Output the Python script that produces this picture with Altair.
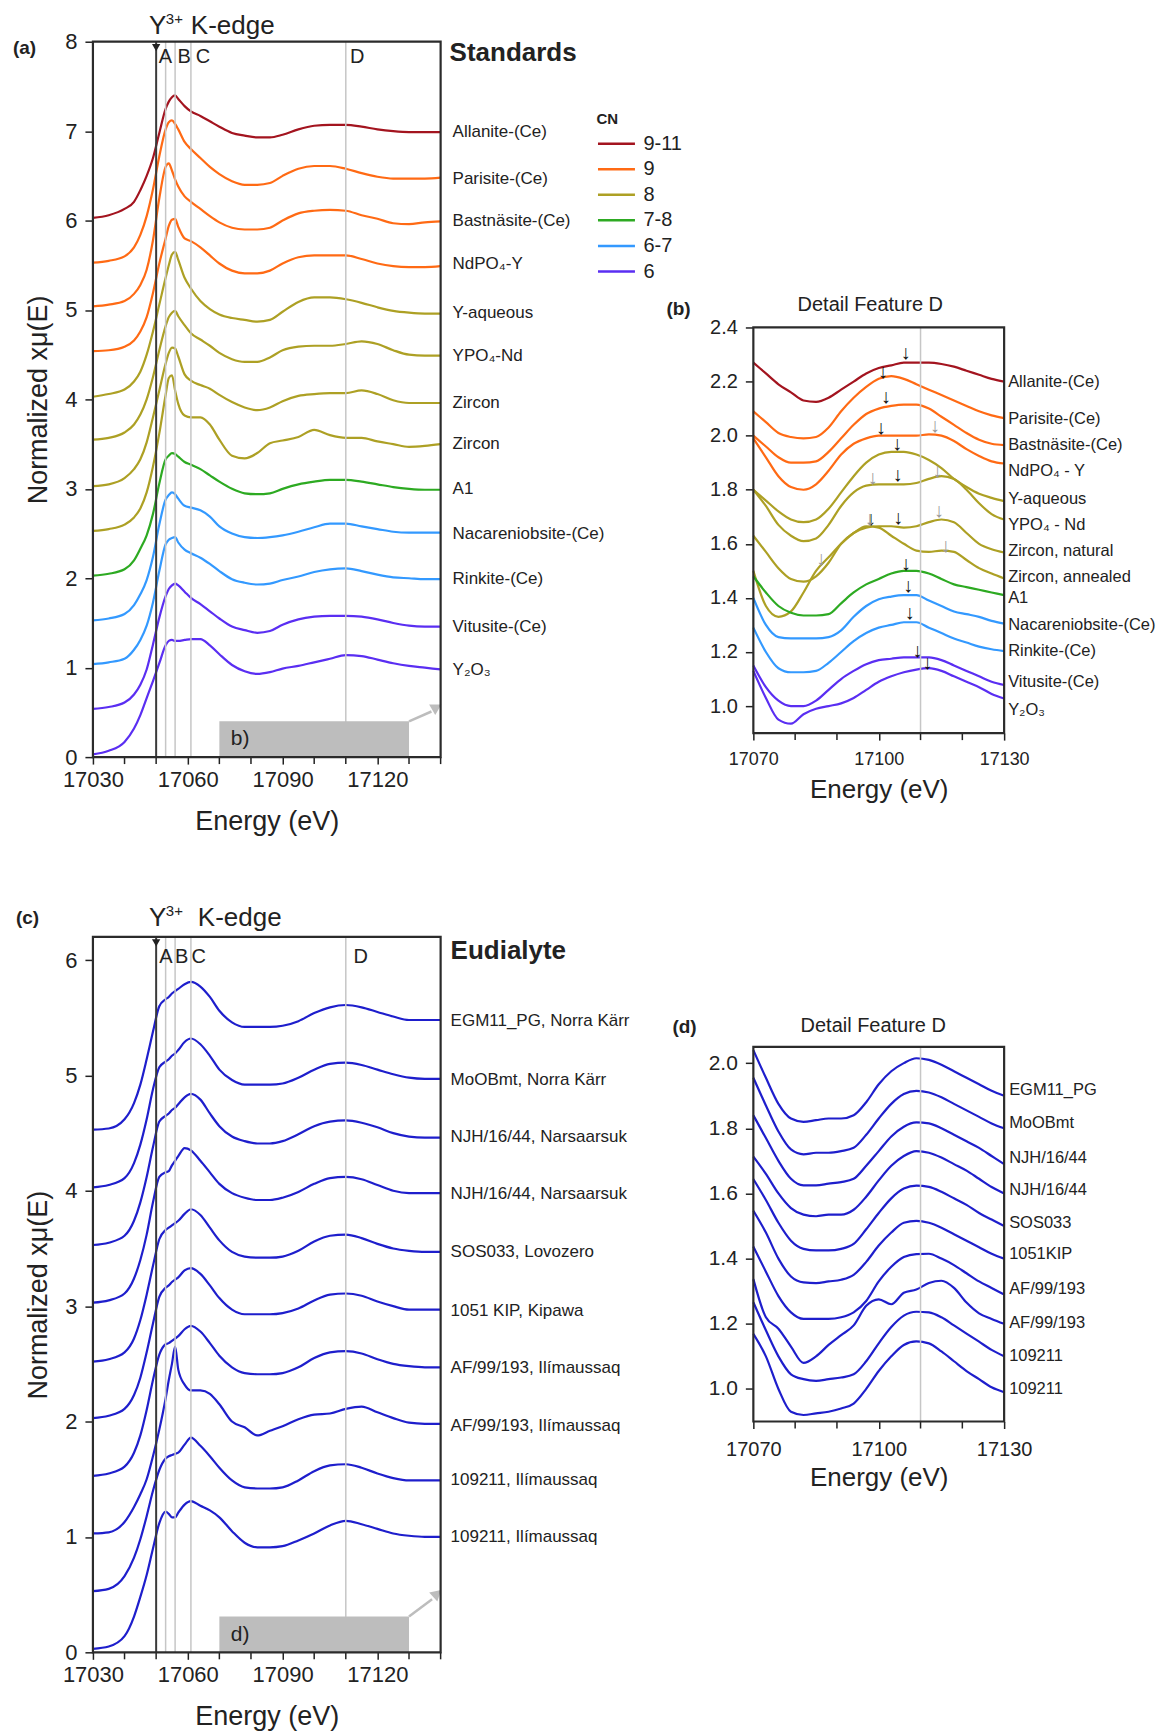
import altair as alt
import pandas as pd

FONT = "Liberation Sans"
INK = "#222222"
GUIDE = "#C6C6C6"
BOX = "#BDBDBD"

# ---------------- energies ----------------
E_EDGE = [17030, 17035, 17040, 17043, 17045, 17047, 17049, 17051, 17053, 17054,
          17055, 17056, 17057, 17059, 17061, 17064, 17067, 17070, 17074, 17078,
          17082, 17086, 17090, 17095, 17100, 17105, 17110, 17115, 17120, 17125,
          17130, 17135, 17140]
E_DETAIL = [17070, 17073, 17076, 17079, 17082, 17085, 17088, 17091, 17094, 17097,
            17100, 17103, 17106, 17109, 17112, 17115, 17118, 17121, 17124, 17127, 17130]

MAJOR_EDGE = [17030, 17060, 17090, 17120]
MINOR_EDGE = [17040, 17050, 17070, 17080, 17100, 17110, 17130, 17140]
MAJOR_DETAIL = [17070, 17100, 17130]
MINOR_DETAIL = [17080, 17090, 17110, 17120]

EDGE_E = 17050
FEATURE_E = [17053, 17056, 17061, 17110]
FEATURE_LABELS = ["A", "B", "C", "D"]
FEATURE_LABEL_E_A = [17052.9, 17058.9, 17064.8, 17113.6]
FEATURE_LABEL_E_C = [17053.1, 17058.1, 17063.5, 17114.7]

CN_LEVELS = ["9-11", "9", "8", "7-8", "6-7", "6"]
CN_COLORS = ["#A3141F", "#FF6A14", "#ADA024", "#2DAA22", "#3399FF", "#5A2EF2"]
EUD_COLOR = "#1E1ECC"

# ---------------- (a) standards, full edge ----------------
STD_LABELS = ["Allanite-(Ce)", "Parisite-(Ce)", "Bastnäsite-(Ce)", "NdPO₄-Y", "Y-aqueous",
              "YPO₄-Nd", "Zircon", "Zircon", "A1", "Nacareniobsite-(Ce)", "Rinkite-(Ce)",
              "Vitusite-(Ce)", "Y₂O₃"]
STD_CN = ["9-11", "9", "9", "9", "8", "8", "8", "8", "7-8", "6-7", "6-7", "6", "6"]
STD_LABEL_Y = [6.99, 6.47, 5.99, 5.51, 4.97, 4.49, 3.96, 3.50, 3.00, 2.49, 1.99, 1.46, 0.97]

ALLANITE = [6.03, 6.06, 6.13, 6.21, 6.34, 6.50, 6.70, 6.98, 7.25, 7.33, 7.38, 7.40, 7.36, 7.28, 7.22, 7.17, 7.11,
            7.05, 6.98, 6.95, 6.93, 6.93, 6.96, 7.02, 7.06, 7.07, 7.07, 7.05, 7.02, 7.00, 6.99, 6.99, 6.99]
PARISITE = [5.53, 5.55, 5.60, 5.70, 5.84, 6.05, 6.35, 6.72, 7.02, 7.10, 7.12, 7.08, 7.02, 6.88, 6.80, 6.70, 6.60,
            6.52, 6.44, 6.40, 6.40, 6.42, 6.50, 6.58, 6.61, 6.61, 6.58, 6.53, 6.49, 6.47, 6.47, 6.47, 6.48]
BASTNASITE = [5.04, 5.06, 5.10, 5.18, 5.28, 5.45, 5.78, 6.25, 6.60, 6.64, 6.56, 6.46, 6.38, 6.27, 6.21, 6.13, 6.05,
              5.98, 5.92, 5.90, 5.90, 5.92, 6.00, 6.08, 6.11, 6.12, 6.11, 6.06, 6.02, 5.97, 5.96, 5.98, 5.99]
NDPO4 = [4.54, 4.55, 4.59, 4.66, 4.76, 4.92, 5.19, 5.52, 5.80, 5.94, 6.01, 6.02, 5.93, 5.80, 5.77, 5.70, 5.61,
         5.52, 5.44, 5.41, 5.41, 5.44, 5.52, 5.59, 5.61, 5.61, 5.61, 5.57, 5.52, 5.49, 5.48, 5.48, 5.49]
Y_AQ = [4.03, 4.06, 4.11, 4.20, 4.31, 4.50, 4.76, 5.06, 5.36, 5.50, 5.62, 5.65, 5.56, 5.36, 5.24, 5.10, 5.01,
        4.95, 4.91, 4.89, 4.87, 4.89, 4.98, 5.09, 5.14, 5.14, 5.12, 5.08, 5.03, 4.99, 4.97, 4.96, 4.96]
YPO4 = [3.55, 3.57, 3.63, 3.72, 3.83, 4.00, 4.25, 4.55, 4.82, 4.92, 4.97, 4.99, 4.93, 4.83, 4.74, 4.67, 4.60,
        4.52, 4.45, 4.42, 4.42, 4.47, 4.55, 4.59, 4.60, 4.60, 4.62, 4.65, 4.62, 4.55, 4.50, 4.49, 4.49]
ZIRCON_NAT = [3.03, 3.05, 3.12, 3.22, 3.33, 3.52, 3.80, 4.10, 4.40, 4.52, 4.58, 4.57, 4.48, 4.28, 4.21, 4.16, 4.12,
              4.05, 3.97, 3.91, 3.88, 3.91, 3.98, 4.04, 4.06, 4.07, 4.07, 4.10, 4.06, 3.99, 3.96, 3.96, 3.96]
ZIRCON_ANN = [2.53, 2.55, 2.60, 2.68, 2.78, 2.96, 3.25, 3.62, 4.05, 4.24, 4.27, 4.10, 3.95, 3.82, 3.80, 3.80, 3.72,
              3.55, 3.37, 3.34, 3.40, 3.51, 3.54, 3.58, 3.66, 3.60, 3.57, 3.57, 3.53, 3.50, 3.47, 3.48, 3.50]
A1 = [2.03, 2.05, 2.10, 2.20, 2.33, 2.48, 2.72, 3.06, 3.33, 3.37, 3.40, 3.39, 3.36, 3.30, 3.27, 3.22, 3.15,
      3.08, 3.00, 2.95, 2.94, 2.95, 3.00, 3.05, 3.08, 3.10, 3.10, 3.08, 3.05, 3.02, 3.00, 2.99, 2.99]
NACARENIOBSITE = [1.53, 1.55, 1.60, 1.70, 1.82, 1.98, 2.24, 2.60, 2.88, 2.93, 2.96, 2.94, 2.89, 2.81, 2.79, 2.76, 2.69,
                  2.58, 2.50, 2.46, 2.45, 2.46, 2.48, 2.52, 2.57, 2.61, 2.61, 2.58, 2.55, 2.52, 2.51, 2.51, 2.51]
RINKITE = [1.04, 1.06, 1.10, 1.20, 1.31, 1.47, 1.73, 2.08, 2.38, 2.43, 2.45, 2.46, 2.40, 2.32, 2.28, 2.23, 2.16,
           2.08, 1.99, 1.95, 1.93, 1.94, 1.98, 2.02, 2.07, 2.10, 2.11, 2.08, 2.04, 2.01, 2.00, 1.99, 1.99]
VITUSITE = [0.54, 0.56, 0.61, 0.70, 0.81, 0.98, 1.26, 1.56, 1.80, 1.88, 1.92, 1.94, 1.92, 1.85, 1.78, 1.71, 1.63,
            1.55, 1.46, 1.42, 1.39, 1.41, 1.48, 1.54, 1.57, 1.58, 1.58, 1.57, 1.54, 1.50, 1.47, 1.46, 1.46]
Y2O3 = [0.03, 0.07, 0.17, 0.32, 0.47, 0.66, 0.85, 1.05, 1.25, 1.30, 1.31, 1.30, 1.30, 1.31, 1.32, 1.32, 1.25,
        1.15, 1.03, 0.96, 0.93, 0.95, 0.99, 1.02, 1.06, 1.10, 1.14, 1.13, 1.09, 1.05, 1.02, 1.00, 0.98]
STD_CURVES = [ALLANITE, PARISITE, BASTNASITE, NDPO4, Y_AQ, YPO4, ZIRCON_NAT, ZIRCON_ANN, A1,
              NACARENIOBSITE, RINKITE, VITUSITE, Y2O3]

# ---------------- (b) standards, feature D ----------------
B_LABELS = ["Allanite-(Ce)", "Parisite-(Ce)", "Bastnäsite-(Ce)", "NdPO₄ - Y", "Y-aqueous", "YPO₄ - Nd",
            "Zircon, natural", "Zircon, annealed", "A1", "Nacareniobsite-(Ce)", "Rinkite-(Ce)",
            "Vitusite-(Ce)", "Y₂O₃"]
B_LABEL_Y = [2.20, 2.063, 1.967, 1.87, 1.767, 1.67, 1.574, 1.478, 1.40, 1.30, 1.204, 1.089, 0.985]

B_ALLANITE = [2.27, 2.23, 2.19, 2.16, 2.13, 2.125, 2.14, 2.17, 2.20, 2.23, 2.25, 2.26, 2.27, 2.27, 2.27, 2.265, 2.255, 2.24, 2.225, 2.21, 2.20]
B_PARISITE = [2.09, 2.05, 2.01, 1.995, 1.99, 1.995, 2.03, 2.09, 2.14, 2.18, 2.21, 2.22, 2.21, 2.19, 2.17, 2.15, 2.13, 2.11, 2.09, 2.075, 2.065]
B_BASTNASITE = [2.00, 1.96, 1.92, 1.90, 1.90, 1.905, 1.94, 1.99, 2.04, 2.08, 2.10, 2.11, 2.115, 2.115, 2.10, 2.07, 2.04, 2.01, 1.985, 1.97, 1.965]
B_NDPO4 = [1.99, 1.92, 1.85, 1.81, 1.80, 1.82, 1.87, 1.93, 1.97, 1.99, 2.00, 2.00, 2.00, 2.00, 2.005, 2.00, 1.98, 1.95, 1.925, 1.905, 1.897]
B_Y_AQ = [1.80, 1.76, 1.72, 1.69, 1.68, 1.69, 1.73, 1.79, 1.85, 1.90, 1.93, 1.94, 1.94, 1.93, 1.91, 1.88, 1.84, 1.81, 1.785, 1.77, 1.758]
B_YPO4 = [1.80, 1.74, 1.67, 1.63, 1.61, 1.62, 1.67, 1.74, 1.79, 1.815, 1.82, 1.82, 1.82, 1.825, 1.84, 1.85, 1.84, 1.80, 1.75, 1.71, 1.69]
B_ZIRCON_NAT = [1.63, 1.57, 1.51, 1.47, 1.46, 1.48, 1.53, 1.60, 1.64, 1.66, 1.665, 1.665, 1.66, 1.665, 1.68, 1.69, 1.68, 1.64, 1.60, 1.58, 1.568]
B_ZIRCON_ANN = [1.50, 1.37, 1.33, 1.35, 1.42, 1.50, 1.55, 1.60, 1.64, 1.665, 1.66, 1.63, 1.60, 1.575, 1.57, 1.575, 1.57, 1.54, 1.51, 1.49, 1.472]
B_A1 = [1.48, 1.42, 1.37, 1.345, 1.335, 1.335, 1.34, 1.38, 1.42, 1.45, 1.47, 1.49, 1.50, 1.50, 1.49, 1.47, 1.45, 1.44, 1.43, 1.42, 1.41]
B_NACARENIOBSITE = [1.40, 1.30, 1.255, 1.25, 1.25, 1.25, 1.255, 1.28, 1.33, 1.37, 1.395, 1.405, 1.41, 1.41, 1.39, 1.37, 1.35, 1.34, 1.33, 1.315, 1.305]
B_RINKITE = [1.29, 1.20, 1.14, 1.125, 1.125, 1.13, 1.16, 1.20, 1.24, 1.27, 1.29, 1.30, 1.31, 1.31, 1.29, 1.27, 1.25, 1.235, 1.22, 1.21, 1.203]
B_VITUSITE = [1.15, 1.07, 1.02, 1.00, 1.00, 1.02, 1.06, 1.10, 1.13, 1.155, 1.17, 1.175, 1.18, 1.18, 1.18, 1.17, 1.15, 1.13, 1.11, 1.09, 1.078]
B_Y2O3 = [1.13, 1.03, 0.95, 0.935, 0.97, 0.99, 1.00, 1.01, 1.03, 1.06, 1.09, 1.11, 1.125, 1.135, 1.14, 1.13, 1.11, 1.09, 1.07, 1.045, 1.028]
B_CURVES = [B_ALLANITE, B_PARISITE, B_BASTNASITE, B_NDPO4, B_Y_AQ, B_YPO4, B_ZIRCON_NAT, B_ZIRCON_ANN,
            B_A1, B_NACARENIOBSITE, B_RINKITE, B_VITUSITE, B_Y2O3]

ARROW_E = [17106.5, 17101.1, 17101.8, 17113.5, 17100.6, 17104.5, 17098.6, 17104.6, 17114.1, 17114.5,
           17097.9, 17098.2, 17104.7, 17116.1, 17086.3, 17106.6, 17107.1, 17107.5, 17109.3, 17111.7]
ARROW_V = [2.304, 2.236, 2.144, 2.036, 2.027, 1.969, 1.844, 1.854, 1.869, 1.721,
           1.691, 1.691, 1.694, 1.592, 1.543, 1.527, 1.444, 1.346, 1.203, 1.158]
ARROW_GREY = [False, False, False, True, False, False, True, False, True, True,
              True, False, False, True, True, False, False, False, False, False]

# ---------------- (c) eudialyte, full edge ----------------
EUD_LABELS = ["EGM11_PG, Norra Kärr", "MoOBmt, Norra Kärr", "NJH/16/44, Narsaarsuk", "NJH/16/44, Narsaarsuk",
              "SOS033, Lovozero", "1051 KIP, Kipawa", "AF/99/193, Ilímaussaq", "AF/99/193, Ilímaussaq",
              "109211, Ilímaussaq", "109211, Ilímaussaq"]
EUD_LABEL_Y = [5.47, 4.96, 4.47, 3.97, 3.47, 2.96, 2.46, 1.96, 1.49, 1.00]

EGM11 = [4.53, 4.54, 4.62, 4.76, 4.92, 5.14, 5.38, 5.60, 5.66, 5.68, 5.71, 5.73, 5.75, 5.79, 5.81, 5.77, 5.68,
         5.56, 5.46, 5.42, 5.42, 5.42, 5.43, 5.47, 5.54, 5.59, 5.61, 5.59, 5.55, 5.51, 5.48, 5.48, 5.48]
MOOBMT = [4.03, 4.05, 4.11, 4.24, 4.40, 4.62, 4.88, 5.07, 5.12, 5.14, 5.17, 5.19, 5.22, 5.29, 5.32, 5.27, 5.17,
          5.05, 4.96, 4.92, 4.92, 4.92, 4.93, 4.98, 5.05, 5.10, 5.11, 5.09, 5.05, 5.01, 4.98, 4.97, 4.97]
NJH_1 = [3.53, 3.55, 3.61, 3.74, 3.90, 4.12, 4.38, 4.60, 4.65, 4.67, 4.70, 4.72, 4.75, 4.81, 4.84, 4.79, 4.67,
         4.56, 4.47, 4.43, 4.41, 4.41, 4.43, 4.49, 4.56, 4.60, 4.61, 4.59, 4.55, 4.50, 4.47, 4.46, 4.46]
NJH_2 = [3.03, 3.05, 3.11, 3.24, 3.40, 3.62, 3.90, 4.12, 4.16, 4.17, 4.22, 4.26, 4.30, 4.37, 4.35, 4.26, 4.16,
         4.06, 3.98, 3.94, 3.92, 3.92, 3.94, 3.99, 4.06, 4.11, 4.12, 4.10, 4.05, 4.00, 3.98, 3.98, 3.98]
SOS033 = [2.52, 2.54, 2.60, 2.72, 2.88, 3.10, 3.35, 3.58, 3.66, 3.68, 3.70, 3.72, 3.74, 3.80, 3.84, 3.79, 3.68,
          3.57, 3.47, 3.43, 3.42, 3.42, 3.43, 3.48, 3.56, 3.61, 3.62, 3.59, 3.54, 3.50, 3.48, 3.47, 3.47]
KIP1051 = [2.03, 2.05, 2.11, 2.23, 2.38, 2.60, 2.85, 3.08, 3.16, 3.18, 3.21, 3.23, 3.25, 3.31, 3.33, 3.28, 3.18,
           3.07, 2.97, 2.93, 2.93, 2.93, 2.94, 2.98, 3.05, 3.10, 3.11, 3.09, 3.04, 3.00, 2.97, 2.97, 2.97]
AF_1 = [1.53, 1.55, 1.61, 1.73, 1.88, 2.10, 2.36, 2.58, 2.67, 2.68, 2.70, 2.72, 2.74, 2.80, 2.83, 2.78, 2.68,
        2.57, 2.47, 2.42, 2.41, 2.41, 2.42, 2.47, 2.55, 2.60, 2.61, 2.59, 2.54, 2.50, 2.48, 2.47, 2.47]
AF_2 = [1.03, 1.04, 1.13, 1.26, 1.37, 1.50, 1.70, 1.93, 2.20, 2.36, 2.50, 2.65, 2.45, 2.32, 2.27, 2.27, 2.24,
        2.15, 2.00, 1.95, 1.88, 1.92, 1.96, 2.02, 2.06, 2.07, 2.11, 2.13, 2.08, 2.03, 1.99, 1.98, 1.98]
S109211_1 = [0.53, 0.55, 0.66, 0.82, 0.98, 1.18, 1.40, 1.58, 1.68, 1.70, 1.71, 1.72, 1.73, 1.80, 1.86, 1.79, 1.70,
             1.60, 1.49, 1.43, 1.42, 1.42, 1.43, 1.49, 1.57, 1.62, 1.63, 1.60, 1.55, 1.51, 1.49, 1.49, 1.49]
S109211_2 = [0.03, 0.05, 0.14, 0.31, 0.48, 0.67, 0.90, 1.12, 1.22, 1.20, 1.17, 1.17, 1.21, 1.28, 1.31, 1.27, 1.23,
             1.17, 1.05, 0.95, 0.91, 0.91, 0.92, 0.97, 1.03, 1.10, 1.14, 1.11, 1.07, 1.03, 1.01, 1.00, 1.00]
EUD_CURVES = [EGM11, MOOBMT, NJH_1, NJH_2, SOS033, KIP1051, AF_1, AF_2, S109211_1, S109211_2]

# ---------------- (d) eudialyte, feature D ----------------
D_LABELS = ["EGM11_PG", "MoOBmt", "NJH/16/44", "NJH/16/44", "SOS033", "1051KIP", "AF/99/193", "AF/99/193",
            "109211", "109211"]
D_LABEL_Y = [1.917, 1.816, 1.709, 1.61, 1.509, 1.414, 1.307, 1.202, 1.101, 1.0]

D_EGM11 = [2.04, 1.955, 1.875, 1.83, 1.82, 1.825, 1.83, 1.83, 1.84, 1.88, 1.935, 1.975, 2.00, 2.015, 2.01, 1.995, 1.975, 1.955, 1.935, 1.915, 1.90]
D_MOOBMT = [1.955, 1.87, 1.79, 1.735, 1.72, 1.725, 1.725, 1.73, 1.74, 1.78, 1.83, 1.875, 1.905, 1.915, 1.91, 1.895, 1.875, 1.855, 1.835, 1.815, 1.80]
D_NJH_1 = [1.84, 1.77, 1.70, 1.645, 1.625, 1.625, 1.63, 1.635, 1.645, 1.685, 1.73, 1.775, 1.805, 1.818, 1.815, 1.80, 1.78, 1.76, 1.74, 1.715, 1.69]
D_NJH_2 = [1.713, 1.66, 1.60, 1.555, 1.535, 1.53, 1.535, 1.535, 1.55, 1.59, 1.64, 1.685, 1.715, 1.73, 1.725, 1.71, 1.69, 1.67, 1.645, 1.62, 1.60]
D_SOS033 = [1.644, 1.58, 1.51, 1.455, 1.43, 1.425, 1.425, 1.43, 1.445, 1.49, 1.54, 1.585, 1.615, 1.624, 1.62, 1.605, 1.585, 1.565, 1.54, 1.52, 1.50]
D_KIP1051 = [1.547, 1.48, 1.40, 1.345, 1.327, 1.325, 1.33, 1.335, 1.35, 1.39, 1.44, 1.48, 1.51, 1.516, 1.51, 1.495, 1.475, 1.455, 1.435, 1.415, 1.40]
D_AF_1 = [1.437, 1.36, 1.285, 1.235, 1.215, 1.215, 1.215, 1.22, 1.235, 1.27, 1.33, 1.375, 1.405, 1.414, 1.415, 1.40, 1.38, 1.355, 1.33, 1.31, 1.29]
D_AF_2 = [1.337, 1.22, 1.185, 1.13, 1.08, 1.10, 1.135, 1.165, 1.195, 1.255, 1.275, 1.26, 1.295, 1.305, 1.325, 1.332, 1.31, 1.265, 1.232, 1.215, 1.20]
D_109211_1 = [1.266, 1.18, 1.10, 1.045, 1.03, 1.025, 1.03, 1.035, 1.045, 1.085, 1.14, 1.19, 1.225, 1.237, 1.235, 1.22, 1.195, 1.17, 1.145, 1.12, 1.10]
D_109211_2 = [1.169, 1.10, 1.00, 0.93, 0.92, 0.925, 0.93, 0.94, 0.955, 1.00, 1.055, 1.10, 1.135, 1.146, 1.14, 1.115, 1.085, 1.055, 1.03, 1.005, 0.99]
D_CURVES = [D_EGM11, D_MOOBMT, D_NJH_1, D_NJH_2, D_SOS033, D_KIP1051, D_AF_1, D_AF_2, D_109211_1, D_109211_2]


# ---------------- helpers ----------------
def series_frame(energies, curves, groups):
    rows = []
    for sid, (vals, grp) in enumerate(zip(curves, groups)):
        for e, v in zip(energies, vals):
            rows.append({"sid": sid, "cn": grp, "E": e, "v": v})
    return pd.DataFrame(rows)


def note(text, x, y, size, weight="normal", align="left", baseline="middle", color=INK):
    return alt.Chart(pd.DataFrame({"t": [text]})).mark_text(
        font=FONT, fontSize=size, fontWeight=weight, align=align, baseline=baseline, color=color
    ).encode(text="t:N", x=alt.value(x), y=alt.value(y))


def energy_axis(values, label_size, title_size, offset=0, label_pad=5, title_pad=8):
    return alt.Axis(
        values=values, format="d",
        title="Energy (eV)", labelFontSize=label_size, titleFontSize=title_size,
        labelFont=FONT, titleFont=FONT, labelColor=INK, titleColor=INK,
        titleFontWeight="normal", tickSize=7, tickWidth=1.5, tickColor=INK,
        domain=False, grid=False, labelFlush=False, labelOverlap=False,
        labelPadding=label_pad, titlePadding=title_pad, offset=offset)


def value_axis(values, label_size, title="", fmt="d"):
    return alt.Axis(values=values, format=fmt, labelFontSize=label_size, labelFont=FONT, labelColor=INK,
                    tickSize=8, tickWidth=1.5, tickColor=INK, domain=False, grid=False,
                    labelPadding=8, labelFlush=False, labelOverlap=False, title=title,
                    titleFontSize=27, titleFont=FONT, titleColor=INK, titleFontWeight="normal",
                    titlePadding=12)


def minor_ticks(values, xscale, ytop):
    return alt.Chart(pd.DataFrame({"E": values})).mark_rule(color=INK, strokeWidth=1.5).encode(
        x=alt.X("E:Q", scale=xscale), y=alt.value(ytop), y2=alt.value(ytop + 7))


def frame(xs, ys, xscale, yscale):
    df = pd.DataFrame({"x0": [xs[0]], "x1": [xs[1]], "y0": [ys[0]], "y1": [ys[1]]})
    return alt.Chart(df).mark_rect(fillOpacity=0, stroke="#2b2b2b", strokeWidth=2.2).encode(
        x=alt.X("x0:Q", scale=xscale), x2="x1:Q",
        y=alt.Y("y0:Q", scale=yscale), y2="y1:Q")


def guides(values, xscale, color, width, yscale=None, span=None):
    df = pd.DataFrame({"E": values})
    enc = dict(x=alt.X("E:Q", scale=xscale))
    if span is not None:
        df["y0"] = span[0]
        df["y1"] = span[1]
        enc["y"] = alt.Y("y0:Q", scale=yscale)
        enc["y2"] = "y1:Q"
    return alt.Chart(df).mark_rule(color=color, strokeWidth=width).encode(**enc)


def curve_labels(labels, ys, xpix, yscale, size):
    return alt.Chart(pd.DataFrame({"t": labels, "v": ys})).mark_text(
        font=FONT, fontSize=size, align="left", baseline="middle", color=INK
    ).encode(text="t:N", x=alt.value(xpix), y=alt.Y("v:Q", scale=yscale))


def zoom_box(xs, ys, head, angle, text, text_xy, xscale, yscale):
    box = alt.Chart(pd.DataFrame({"x0": [xs[0]], "x1": [xs[1]], "y0": [ys[0]], "y1": [ys[1]]})).mark_rect(
        color=BOX).encode(x=alt.X("x0:Q", scale=xscale), x2="x1:Q",
                          y=alt.Y("y0:Q", scale=yscale), y2="y1:Q")
    stem = alt.Chart(pd.DataFrame({"x0": [xs[1]], "x1": [head[0] - 1.2], "y0": [ys[1]], "y1": [head[1] - 0.04]})).mark_rule(
        color=BOX, strokeWidth=2.5).encode(x=alt.X("x0:Q", scale=xscale), x2="x1:Q",
                                            y=alt.Y("y0:Q", scale=yscale), y2="y1:Q")
    tip = alt.Chart(pd.DataFrame({"E": [head[0]], "v": [head[1]]})).mark_point(
        shape="triangle", filled=True, size=150, color=BOX, opacity=1, angle=angle).encode(
        x=alt.X("E:Q", scale=xscale), y=alt.Y("v:Q", scale=yscale))
    lab = alt.Chart(pd.DataFrame({"t": [text], "E": [text_xy[0]], "v": [text_xy[1]]})).mark_text(
        font=FONT, fontSize=21, align="left", baseline="middle", color=INK).encode(
        text="t:N", x=alt.X("E:Q", scale=xscale), y=alt.Y("v:Q", scale=yscale))
    return [box, stem, tip, lab]


def feature_letters(es, ypix, xscale):
    return alt.Chart(pd.DataFrame({"t": FEATURE_LABELS, "E": es})).mark_text(
        font=FONT, fontSize=20, align="center", baseline="alphabetic", color=INK).encode(
        text="t:N", x=alt.X("E:Q", scale=xscale), y=alt.value(ypix))


def edge_marker(top, xscale, yscale):
    return alt.Chart(pd.DataFrame({"E": [EDGE_E], "v": [top]})).mark_point(
        shape="triangle-down", filled=True, size=70, color=INK, opacity=1, yOffset=6).encode(
        x=alt.X("E:Q", scale=xscale), y=alt.Y("v:Q", scale=yscale))


cscale = alt.Scale(domain=CN_LEVELS, range=CN_COLORS)
cn_legend = alt.Legend(title="CN", orient="none", legendX=504, legendY=70,
                       symbolType="stroke", symbolSize=1369, symbolStrokeWidth=2.5,
                       clipHeight=24, rowPadding=1.6, labelFontSize=20, labelFont=FONT,
                       labelColor=INK, titleFontSize=15, titleFont=FONT, titleFontWeight="bold",
                       titleColor=INK, labelOffset=7, titlePadding=5)

# ---------------- panel (a) ----------------
xa = alt.Scale(domain=[17030, 17140], nice=False, zero=False)
ya = alt.Scale(domain=[0, 8], nice=False, zero=False)
lines_a = alt.Chart(series_frame(E_EDGE, STD_CURVES, STD_CN)).mark_line(
    strokeWidth=2.2, interpolate="monotone").encode(
    x=alt.X("E:Q", scale=xa, axis=energy_axis(MAJOR_EDGE, 22, 27, title_pad=18)),
    y=alt.Y("v:Q", scale=ya, axis=value_axis(list(range(0, 9)), 22, "Normalized xμ(E)")),
    color=alt.Color("cn:N", scale=cscale, legend=cn_legend),
    detail="sid:N")
panel_a = alt.layer(
    lines_a,
    guides(FEATURE_E, xa, GUIDE, 1.5),
    guides([EDGE_E], xa, "#3a3a3a", 2),
    *zoom_box([17070, 17130], [0, 0.4], (17138.3, 0.55), 60, "b)", (17073.6, 0.2), xa, ya),
    edge_marker(8, xa, ya),
    minor_ticks(MINOR_EDGE, xa, 716),
    frame([17030, 17140], [0, 8], xa, ya),
    feature_letters(FEATURE_LABEL_E_A, 21, xa),
    curve_labels(STD_LABELS, STD_LABEL_Y, 360, ya, 17),
    note("(a)", -80, 6, 19, weight="bold"),
    note("Y", 56, -8, 26, baseline="alphabetic"),
    note("3+", 73, -18, 15, baseline="alphabetic"),
    note("K-edge", 98, -8, 26, baseline="alphabetic"),
    note("Standards", 357, 11, 26, weight="bold"),
    note(".", -84, -32, 2, baseline="top", color="#ffffff"),
).properties(width=348, height=716)

# ---------------- panel (b) ----------------
xb = alt.Scale(domain=[17070, 17130], nice=False, zero=False)
yb = alt.Scale(domain=[0.9, 2.4], range=[692, 286], nice=False, zero=False)
lines_b = alt.Chart(series_frame(E_DETAIL, B_CURVES, STD_CN)).mark_line(
    strokeWidth=2.2, interpolate="monotone").encode(
    x=alt.X("E:Q", scale=xb, axis=energy_axis(MAJOR_DETAIL, 18, 26, offset=-24, label_pad=10, title_pad=8)),
    y=alt.Y("v:Q", scale=yb, axis=value_axis([1.0, 1.2, 1.4, 1.6, 1.8, 2.0, 2.2, 2.4], 20, "", ".1f")),
    color=alt.Color("cn:N", scale=cscale, legend=cn_legend),
    detail="sid:N")
arrows = pd.DataFrame({"E": ARROW_E, "v": ARROW_V, "grey": ARROW_GREY, "t": ["↓"] * len(ARROW_E)})


def arrow_layer(df, color):
    return alt.Chart(df).mark_text(font=FONT, fontSize=20, fontWeight="bold", align="center",
                                   baseline="middle", color=color).encode(
        text="t:N", x=alt.X("E:Q", scale=xb), y=alt.Y("v:Q", scale=yb))


panel_b = alt.layer(
    lines_b,
    guides([17110], xb, GUIDE, 1.5, yb, (0.9, 2.4)),
    arrow_layer(arrows[~arrows["grey"]], "#111111"),
    arrow_layer(arrows[arrows["grey"]], "#9A9A9A"),
    minor_ticks(MINOR_DETAIL, xb, 692),
    frame([17070, 17130], [0.9, 2.4], xb, yb),
    curve_labels(B_LABELS, B_LABEL_Y, 255, yb, 16.5),
    note("(b)", -87, 268, 19, weight="bold"),
    note("Detail Feature D", 117, 264, 20, align="center"),
).properties(width=251, height=716)

# ---------------- panel (c) ----------------
yc = alt.Scale(domain=[0, 6.2], nice=False, zero=False)
lines_c = alt.Chart(series_frame(E_EDGE, EUD_CURVES, ["eud"] * len(EUD_CURVES))).mark_line(
    strokeWidth=2.2, interpolate="monotone", color=EUD_COLOR).encode(
    x=alt.X("E:Q", scale=xa, axis=energy_axis(MAJOR_EDGE, 22, 27, title_pad=18)),
    y=alt.Y("v:Q", scale=yc, axis=value_axis(list(range(0, 7)), 22, "Normalized xμ(E)")),
    detail="sid:N")
panel_c = alt.layer(
    lines_c,
    guides(FEATURE_E, xa, GUIDE, 1.5),
    guides([EDGE_E], xa, "#3a3a3a", 2),
    *zoom_box([17070, 17130], [0, 0.31], (17138.5, 0.5), 48, "d)", (17073.6, 0.15), xa, yc),
    edge_marker(6.2, xa, yc),
    minor_ticks(MINOR_EDGE, xa, 716),
    frame([17030, 17140], [0, 6.2], xa, yc),
    feature_letters(FEATURE_LABEL_E_C, 26, xa),
    curve_labels(EUD_LABELS, EUD_LABEL_Y, 358, yc, 17),
    note("(c)", -77, -19, 19, weight="bold"),
    note("Y", 56, -11, 26, baseline="alphabetic"),
    note("3+", 73, -21, 15, baseline="alphabetic"),
    note("K-edge", 105, -11, 26, baseline="alphabetic"),
    note("Eudialyte", 358, 14, 26, weight="bold"),
).properties(width=348, height=716)

# ---------------- panel (d) ----------------
yd = alt.Scale(domain=[0.9, 2.05], range=[485, 110], nice=False, zero=False)
lines_d = alt.Chart(series_frame(E_DETAIL, D_CURVES, ["eud"] * len(D_CURVES))).mark_line(
    strokeWidth=2.2, interpolate="monotone", color=EUD_COLOR).encode(
    x=alt.X("E:Q", scale=xb, axis=energy_axis(MAJOR_DETAIL, 20, 26, offset=-231, label_pad=11, title_pad=5)),
    y=alt.Y("v:Q", scale=yd, axis=value_axis([1.0, 1.2, 1.4, 1.6, 1.8, 2.0], 21, "", ".1f")),
    detail="sid:N")
panel_d = alt.layer(
    lines_d,
    guides([17110], xb, GUIDE, 1.5, yd, (0.9, 2.05)),
    minor_ticks(MINOR_DETAIL, xb, 485),
    frame([17070, 17130], [0.9, 2.05], xb, yd),
    curve_labels(D_LABELS, D_LABEL_Y, 256, yd, 16.5),
    note("(d)", -81, 90, 19, weight="bold"),
    note("Detail Feature D", 120, 89, 20, align="center"),
).properties(width=251, height=716)

chart = alt.concat(
    panel_a, panel_b, panel_c, panel_d,
    columns=2, spacing={"row": 180, "column": 313}, bounds="flush"
).properties(padding=0).configure_view(stroke="transparent")

chart.save("out.html", embed_options={"renderer": "svg", "actions": False})
